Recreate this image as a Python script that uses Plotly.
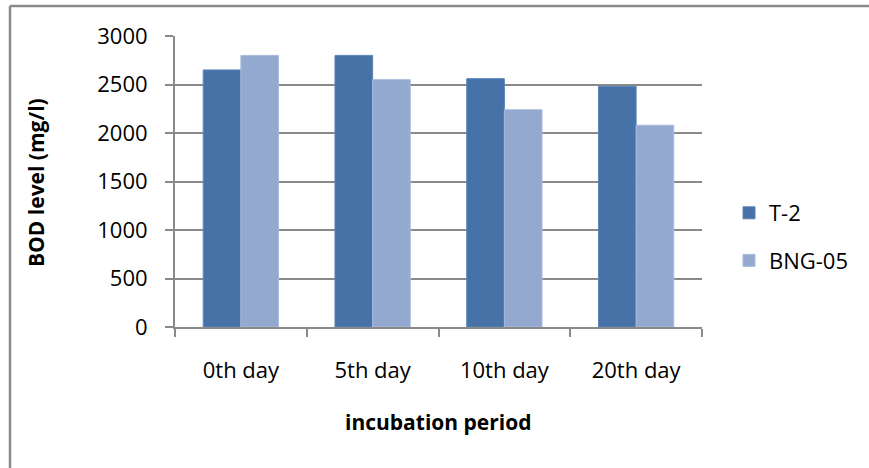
import plotly.graph_objects as go

categories = ["0th day", "5th day", "10th day", "20th day"]
t2_values = [2650, 2800, 2560, 2480]
bng05_values = [2800, 2550, 2240, 2080]
series_names = ["T-2", "BNG-05"]
y_ticks = [0, 500, 1000, 1500, 2000, 2500, 3000]

W, H = 869, 468
L, R, T, B = 175, 869 - 702, 36, 468 - 327
pw, ph = W - L - R, H - T - B

def px(x):
    return (x - L) / pw

def py(y):
    return (H - B - y) / ph

FONT = "Open Sans"
grid = "#8a8a8a"

fig = go.Figure()
fig.add_trace(go.Bar(x=categories, y=t2_values, name=series_names[0],
                     marker=dict(color="#4672A8", line=dict(color="#5b84b8", width=1)),
                     legendgroup="a"))
fig.add_trace(go.Bar(x=categories, y=bng05_values, name=series_names[1],
                     marker=dict(color="#94A9D0", line=dict(color="#a9bbdb", width=1)),
                     legendgroup="b"))

fig.update_layout(
    width=W, height=H,
    margin=dict(l=L, r=R, t=T, b=B, pad=0),
    paper_bgcolor="white", plot_bgcolor="white",
    barmode="group", bargap=1.5 / 3.5, bargroupgap=0,
    font=dict(family=FONT, size=22, color="black"),
    showlegend=True,
    legend=dict(x=px(729), y=py(192), xanchor="left", yanchor="top",
                font=dict(family=FONT, size=22, color="black"),
                tracegroupgap=16, bgcolor="rgba(0,0,0,0)"),
    xaxis=dict(showline=True, linecolor=grid, linewidth=2,
               ticks="outside", tickson="boundaries", ticklen=8, tickcolor=grid, tickwidth=2,
               showgrid=False, tickfont=dict(family=FONT, size=22),
               ticklabelstandoff=23),
    yaxis=dict(range=[0, 3000], tickvals=y_ticks, showline=True, linecolor=grid, linewidth=2,
               ticks="outside", ticklen=8, tickcolor=grid, tickwidth=2,
               showgrid=True, gridcolor=grid, gridwidth=2, zeroline=False,
               tickfont=dict(family=FONT, size=22), ticklabelstandoff=13),
    shapes=[
        dict(type="line", xref="paper", yref="paper",
             x0=px(10), x1=px(869), y0=py(6), y1=py(6),
             line=dict(color="#8a8a8a", width=2.5), layer="below"),
        dict(type="line", xref="paper", yref="paper",
             x0=px(10), x1=px(10), y0=py(6), y1=py(468),
             line=dict(color="#8a8a8a", width=2.5), layer="below"),
    ],
    annotations=[
        dict(text="<b>BOD level (mg/l)</b>", xref="paper", yref="paper",
             x=px(36), y=py(183), xanchor="center", yanchor="middle",
             showarrow=False, textangle=-90,
             font=dict(family=FONT, size=21, color="black")),
        dict(text="<b>incubation period</b>", xref="paper", yref="paper",
             x=px(438), y=py(422), xanchor="center", yanchor="middle",
             showarrow=False,
             font=dict(family=FONT, size=21, color="black")),
    ],
)

fig.write_html("out.html", config={"displayModeBar": False},
               post_script="document.body.style.margin='0';document.body.style.overflow='hidden';")
